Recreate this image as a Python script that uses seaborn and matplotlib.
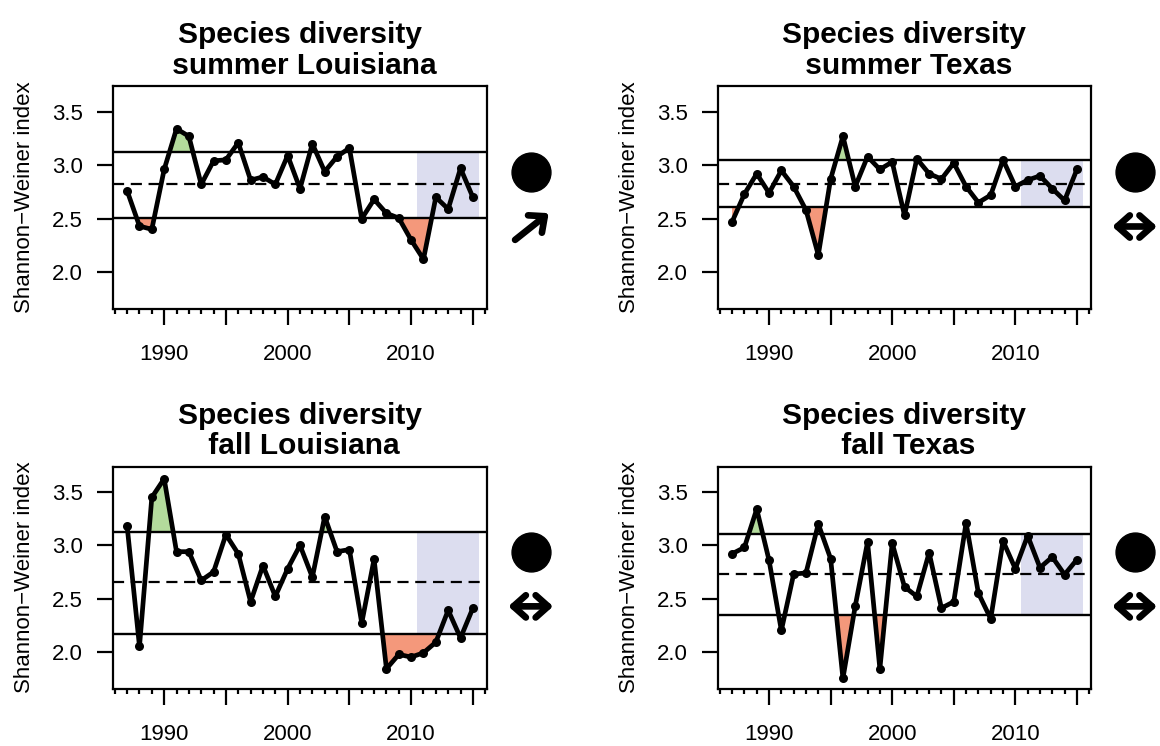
import numpy as np
import pandas as pd
import matplotlib
matplotlib.use("Agg")
import matplotlib.pyplot as plt
from matplotlib.ticker import MultipleLocator, FuncFormatter
import seaborn as sns

# ---- data -------------------------------------------------------------
years = list(range(1987, 2016))

summer_la = [2.76, 2.43, 2.40, 2.96, 3.34, 3.27, 2.82, 3.04, 3.05, 3.21,
             2.86, 2.89, 2.82, 3.09, 2.78, 3.20, 2.94, 3.08, 3.16, 2.50,
             2.68, 2.55, 2.505, 2.30, 2.12, 2.70, 2.59, 2.97, 2.70]
summer_tx = [2.47, 2.73, 2.92, 2.74, 2.95, 2.80, 2.58, 2.16, 2.87, 3.27,
             2.80, 3.08, 2.96, 3.03, 2.53, 3.06, 2.92, 2.87, 3.02, 2.80,
             2.65, 2.72, 3.05, 2.80, 2.86, 2.90, 2.78, 2.67, 2.96]
fall_la = [3.18, 2.05, 3.45, 3.625, 2.94, 2.94, 2.67, 2.75, 3.10, 2.92,
           2.47, 2.81, 2.52, 2.78, 3.00, 2.70, 3.27, 2.94, 2.96, 2.27,
           2.87, 1.84, 1.975, 1.95, 1.99, 2.09, 2.39, 2.13, 2.41]
fall_tx = [2.92, 2.98, 3.34, 2.86, 2.20, 2.73, 2.74, 3.20, 2.875, 1.75,
           2.43, 3.03, 1.84, 3.02, 2.61, 2.52, 2.93, 2.41, 2.47, 3.21,
           2.55, 2.31, 3.04, 2.78, 3.09, 2.79, 2.89, 2.725, 2.866]

titles = ["Species diversity\n summer Louisiana", "Species diversity\n summer Texas",
          "Species diversity\n fall Louisiana", "Species diversity\n fall Texas"]
series = [summer_la, summer_tx, fall_la, fall_tx]

# long-term mean and mean +/- 1 sd
means = [2.82, 2.825, 2.653, 2.73]
uppers = [3.125, 3.044, 3.128, 3.11]
lowers = [2.51, 2.606, 2.17, 2.35]

# year windows in which excursions beyond +/- 1 sd are shaded
above_windows = [[(1990, 1993)], [(1995, 1997)], [(1988, 1991), (2002, 2004)], [(1988, 1990)]]
below_windows = [[(1987, 1990), (2008.5, 2012)], [(1987, 1988), (1993, 1995)],
                 [(2007, 2013)], [(1995, 1997), (1998, 2000)]]

# recent 5-year window
recent_start, recent_end = 2010.5, 2015.5

# status symbol / trend arrow for the last 5 years
trends = ["up", "flat", "flat", "flat"]

ylabel = "Shannon\u2212Weiner index"

# ---- style ------------------------------------------------------------
sns.set_style("white")
plt.rcParams["font.family"] = ["Liberation Sans", "DejaVu Sans"]
plt.rcParams["axes.unicode_minus"] = True
plt.rcParams["text.color"] = "black"
plt.rcParams["axes.labelcolor"] = "black"
plt.rcParams["xtick.color"] = "black"
plt.rcParams["ytick.color"] = "black"

GREEN = "#B3DB9C"
RED = "#F4987B"
BLUE = "#DCDDEF"

fig = plt.figure(figsize=(11.6, 7.46), dpi=100)
W, H = 1160, 746
boxes = [(113.3, 86, 486.7, 309), (718.3, 86, 1090.7, 309),
         (113.3, 466.5, 486.7, 688.5), (718.3, 466.5, 1090.7, 688.5)]

yr = np.array(years, dtype=float)


def in_windows(windows):
    m = np.zeros(len(yr), dtype=bool)
    for a, b in windows:
        m |= (yr >= a) & (yr <= b)
    return m


for i, (l, t, r, b) in enumerate(boxes):
    ax = fig.add_axes([l / W, 1 - b / H, (r - l) / W, (b - t) / H])
    vals = np.array(series[i])
    df = pd.DataFrame({"year": yr, "value": vals})

    # recent window band
    ax.fill_between([recent_start, recent_end], lowers[i], uppers[i],
                    color=BLUE, lw=0, zorder=1)
    # excursions
    m_up = (vals > uppers[i]) & in_windows(above_windows[i])
    ax.fill_between(yr, vals, uppers[i], where=m_up, interpolate=True,
                    color=GREEN, lw=0, zorder=2)
    m_dn = (vals < lowers[i]) & in_windows(below_windows[i])
    ax.fill_between(yr, vals, lowers[i], where=m_dn, interpolate=True,
                    color=RED, lw=0, zorder=2)

    ax.axhline(uppers[i], color="k", lw=1.7, zorder=3)
    ax.axhline(lowers[i], color="k", lw=1.7, zorder=3)
    ax.axhline(means[i], color="k", lw=1.6, dashes=(5, 3), zorder=3)

    sns.lineplot(data=df, x="year", y="value", ax=ax, color="k", lw=3.4,
                 marker="o", markersize=6.5, markeredgewidth=0, zorder=4,
                 solid_joinstyle="round", solid_capstyle="round")

    ax.set_xlim(1985.88, 2016.12)
    ax.set_ylim(1.655, 3.74)
    ax.set_yticks([2.0, 2.5, 3.0, 3.5])
    ax.yaxis.set_major_formatter(FuncFormatter(lambda v, p: f"{v:.1f}"))
    ax.xaxis.set_major_locator(MultipleLocator(5))
    ax.xaxis.set_minor_locator(MultipleLocator(1))
    ax.xaxis.set_major_formatter(FuncFormatter(
        lambda v, p: f"{int(round(v))}" if int(round(v)) % 10 == 0 else ""))
    ax.tick_params(axis="both", which="major", direction="out", length=11.5,
                   width=1.6, labelsize=16, color="k", labelcolor="k")
    ax.tick_params(axis="x", which="major", pad=14, bottom=True)
    ax.tick_params(axis="y", which="major", pad=10.5, left=True)
    ax.tick_params(axis="x", which="minor", direction="out", length=3.6,
                   width=1.6, bottom=True)
    for s in ax.spines.values():
        s.set_visible(True)
        s.set_linewidth(1.6)
        s.set_color("k")

    ax.set_xlabel("")
    ax.set_ylabel(ylabel, fontsize=16, color="k")
    ax.yaxis.set_label_coords(-0.21, 0.5)
    ax.set_title(titles[i], fontsize=21.5, fontweight="bold", pad=9,
                 linespacing=1.1, color="k")

    # status symbol and trend arrow in the right margin
    sx = 1.118
    ax.plot([sx], [0.615], marker="o", markersize=28, color="k",
            transform=ax.transAxes, clip_on=False)
    if trends[i] == "up":
        ax.annotate("", xy=(sx + 0.048, 0.43), xytext=(sx - 0.042, 0.31),
                    xycoords="axes fraction", textcoords="axes fraction",
                    arrowprops=dict(arrowstyle="->,head_length=0.45,head_width=0.4",
                                    lw=4.8, color="k", capstyle="round",
                                    joinstyle="round", mutation_scale=20,
                                    shrinkA=0, shrinkB=0))
    else:
        ax.annotate("", xy=(sx + 0.06, 0.37), xytext=(sx - 0.06, 0.37),
                    xycoords="axes fraction", textcoords="axes fraction",
                    arrowprops=dict(arrowstyle="<->,head_length=0.45,head_width=0.4",
                                    lw=4.8, color="k", capstyle="round",
                                    joinstyle="round", mutation_scale=20,
                                    shrinkA=0, shrinkB=0))

fig.savefig("out.png", dpi=100)
